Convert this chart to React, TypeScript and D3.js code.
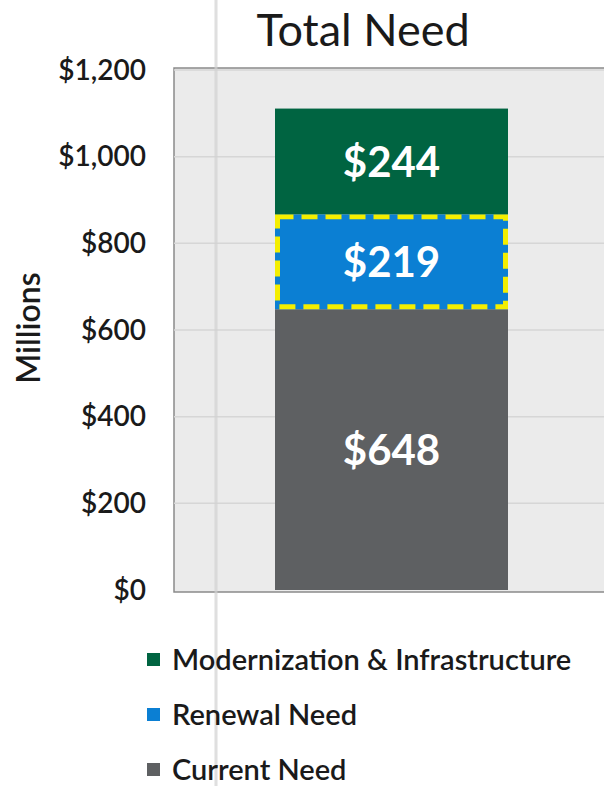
import * as d3 from "d3";

const W = 604;
const H = 786;

const categories = ["Total Need"];
const seriesNames = ["Current Need", "Renewal Need", "Modernization & Infrastructure"];
const currentNeed = [648];
const renewalNeed = [219];
const modernization = [244];
const yTicks = [0, 200, 400, 600, 800, 1000, 1200];
const legendOrder = ["Modernization & Infrastructure", "Renewal Need", "Current Need"];

const colors: Record<string, string> = {
  "Current Need": "#5e6062",
  "Renewal Need": "#0b7fd3",
  "Modernization & Infrastructure": "#006441",
};

const FONT = "Lato, 'Open Sans', sans-serif";

const App = () => {
  const plot = { left: 174, right: 612, top: 68, bottom: 592 };
  const y = d3.scaleLinear().domain([0, 1200]).range([590, 70]);
  const x = d3.scaleBand().domain(categories).range([275, 508]).padding(0);

  const rows = categories.map((c, i) => ({
    cat: c,
    "Current Need": currentNeed[i],
    "Renewal Need": renewalNeed[i],
    "Modernization & Infrastructure": modernization[i],
  }));
  const stacked = d3.stack<any>().keys(seriesNames)(rows);
  const fmt = d3.format("$,");

  return (
    <svg width={W} height={H} style={{ display: "block", position: "absolute", left: 0, top: 0, background: "#fff" }}>
      <rect x={0} y={0} width={W} height={H} fill="#fff" />
      {/* plot area */}
      <rect
        x={plot.left}
        y={plot.top}
        width={plot.right - plot.left}
        height={plot.bottom - plot.top}
        fill="#ebebeb"
        stroke="#8a8a8a"
        strokeWidth={1.5}
      />
      {yTicks.slice(1).map((t) => (
        <line key={t} x1={plot.left} x2={plot.right} y1={y(t)} y2={y(t)} stroke="#d6d6d6" strokeWidth={1.5} />
      ))}
      {/* scan line */}
      <line x1={216} x2={216} y1={0} y2={786} stroke="#d2d2d2" strokeWidth={3} opacity={0.7} />

      {/* title */}
      <text x={363} y={46} textAnchor="middle" fontFamily={FONT} fontSize={45} fill="#1a1a1a">
        Total Need
      </text>

      {/* y axis labels */}
      {yTicks.map((t) => (
        <text
          key={t}
          x={146}
          y={y(t)}
          dy="0.35em"
          textAnchor="end"
          fontFamily={FONT}
          fontWeight={600}
          fontSize={28}
          fill="#1a1a1a"
        >
          {fmt(t)}
        </text>
      ))}
      <text
        transform={`translate(40,328) rotate(-90)`}
        textAnchor="middle"
        fontFamily={FONT}
        fontWeight={600}
        fontSize={32}
        fill="#1a1a1a"
      >
        Millions
      </text>

      {/* bars */}
      {stacked.map((s) =>
        s.map((d, i) => {
          const x0 = x(categories[i])!;
          const bw = x.bandwidth();
          const y0 = y(d[1]);
          const h = y(d[0]) - y(d[1]);
          const isRenewal = s.key === "Renewal Need";
          return (
            <g key={s.key + i}>
              <rect x={x0} y={y0} width={bw} height={h} fill={colors[s.key]} />
              {isRenewal && (
                <rect
                  x={x0 + 2.5}
                  y={y0 + 2.5}
                  width={bw - 5}
                  height={h - 5}
                  fill="none"
                  stroke="#f4ee00"
                  strokeWidth={5}
                  strokeDasharray="16 8"
                />
              )}
              <text
                x={x0 + bw / 2}
                y={(y0 + y(d[0])) / 2}
                dy="0.36em"
                textAnchor="middle"
                fontFamily={FONT}
                fontWeight={700}
                fontSize={42}
                fill="#fff"
              >
                {fmt(d[1] - d[0])}
              </text>
            </g>
          );
        })
      )}

      {/* legend */}
      {legendOrder.map((k, i) => {
        const ly = 660 + i * 55;
        return (
          <g key={k}>
            <rect x={147} y={ly - 7} width={13} height={13} fill={colors[k]} />
            <text x={172} y={ly} dy="0.36em" fontFamily={FONT} fontWeight={600} fontSize={29} fill="#1a1a1a">
              {k}
            </text>
          </g>
        );
      })}
    </svg>
  );
};

export default App;
